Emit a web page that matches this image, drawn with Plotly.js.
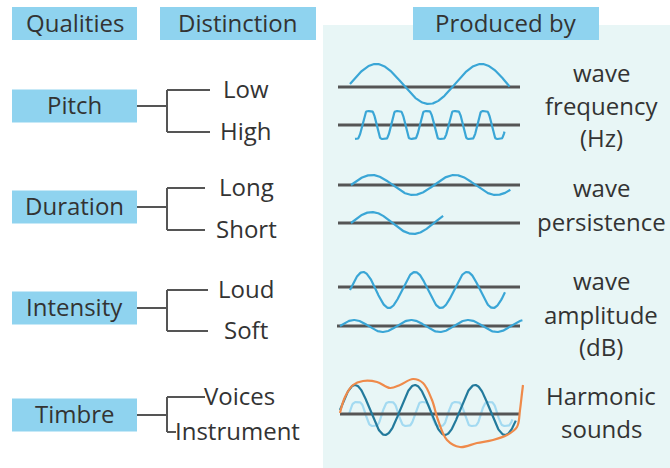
<!DOCTYPE html>
<html>
<head>
<meta charset="utf-8">
<script src="https://cdn.plot.ly/plotly-3.0.1.min.js"></script>
<style>html,body{margin:0;padding:0;background:#fff;}#chart{width:670px;height:468px;}</style>
</head>
<body>
<div id="chart"></div>
<script>
// ---------- data ----------
const headers = ['Qualities', 'Distinction', 'Produced by'];
const qualities = ['Pitch', 'Duration', 'Intensity', 'Timbre'];
const distinctionA = ['Low', 'Long', 'Loud', 'Voices'];
const distinctionB = ['High', 'Short', 'Soft', 'Instrument'];
const producedBy = [['wave', 'frequency', '(Hz)'], ['wave', 'persistence'], ['wave', 'amplitude', '(dB)'], ['Harmonic', 'sounds']];

// wave illustrations: amplitude (px), period (px), number of cycles drawn, start phase (rad), squareness
const waveNames = ['Low', 'High', 'Long', 'Short', 'Loud', 'Soft', 'Fundamental', 'Overtone'];
const waveAmplitude = [20, 14, 10, 11, 18, 6, 25, 12];
const wavePeriod = [105, 28.75, 83, 83, 52, 57, 60, 33];
const waveCycles = [1.52, 5.2, 1.92, 1.11, 2.98, 3.2, 2.93, 4.95];
const wavePhase = [0, -Math.PI / 2, 0, 0, 0, 0, 0, 0];
const waveSquare = [0, 0.13, 0, 0, 0, 0, 0, 0.11];

// resultant harmonic (orange) curve
const harmonicX = [340, 345, 353, 363, 377, 390, 400, 413, 423, 432, 438, 447, 460, 477, 493, 507, 517, 520, 522, 523];
const harmonicY = [413, 397, 385, 381, 382, 388, 385, 379, 383, 400, 420, 440, 447, 443, 440, 435, 427, 410, 393, 385];

// ---------- layout helpers (positions / styles) ----------
const textColor = '#333333';
const boxColor = '#8fd3ef';
const lineColor = '#555555';
const fontFam = '"Open Sans", "DejaVu Sans", sans-serif';
const FS = 24;
const TY = -2; // vertical text nudge

const headerBoxes = [[12, 137], [160, 316], [413, 599]];
const qualityY = [106, 207, 308, 415];
const branchTop = [90, 188, 290, 397];
const branchBot = [132, 230, 331, 432];
const branchEndTop = [210, 205, 208, 205];
const branchEndBot = [210, 205, 208, 176];

const waveStartX = [350, 355, 351, 351, 350, 340, 340, 349];
const waveCenterY = [84, 125, 185, 223, 290, 326, 410, 414];
const waveColors = ['#3aa6d6', '#3aa6d6', '#3aa6d6', '#3aa6d6', '#3aa6d6', '#3aa6d6', '#237a9c', '#a3daf1'];
const baselineY = [87, 125, 185, 223, 287, 326, 414];
const baselineX0 = [338, 338, 338, 338, 338, 337, 340];
const baselineX1 = [520, 520, 520, 520, 520, 520, 520];
const prodLineY = [[74, 107, 139], [189, 223], [282, 316, 348], [397, 430]];
const prodX = 601;

const shapes = [];
const annotations = [];
const traces = [];

function label(x, y, text, anchor) {
  annotations.push({x: x, y: y + TY, text: text, showarrow: false, xanchor: anchor || 'center', yanchor: 'middle', font: {family: fontFam, size: FS, color: textColor}});
}

// background panel
shapes.push({type: 'rect', xref: 'x', yref: 'y', x0: 323, x1: 670, y0: 25, y1: 468, fillcolor: '#e8f6f6', line: {width: 0}, layer: 'below'});

// header boxes
headers.forEach((h, i) => {
  const [x0, x1] = headerBoxes[i];
  shapes.push({type: 'rect', x0: x0, x1: x1, y0: 7, y1: 40, fillcolor: boxColor, line: {width: 0}, layer: 'below'});
  label((x0 + x1) / 2, 24, h);
});

// quality boxes, brackets and distinctions
qualities.forEach((q, i) => {
  const yc = qualityY[i];
  shapes.push({type: 'rect', x0: 12, x1: 137, y0: yc - 16.5, y1: yc + 16.5, fillcolor: boxColor, line: {width: 0}, layer: 'below'});
  label(74.5, yc, q);
  const ln = {color: lineColor, width: 2};
  shapes.push({type: 'line', x0: 137, x1: 167, y0: yc, y1: yc, line: ln});
  shapes.push({type: 'line', x0: 167, x1: 167, y0: branchTop[i], y1: branchBot[i], line: ln});
  shapes.push({type: 'line', x0: 167, x1: branchEndTop[i], y0: branchTop[i], y1: branchTop[i], line: ln});
  shapes.push({type: 'line', x0: 167, x1: branchEndBot[i], y0: branchBot[i], y1: branchBot[i], line: ln});
  if (i < 3) {
    label(246, branchTop[i], distinctionA[i]);
    label(246, branchBot[i], distinctionB[i]);
  } else {
    label(branchEndTop[i] - 3, branchTop[i], distinctionA[i], 'left');
    label(branchEndBot[i] - 3, branchBot[i], distinctionB[i], 'left');
  }
  producedBy[i].forEach((t, k) => label(prodX, prodLineY[i][k], t));
});

// waves
function wave(i) {
  const n = 300, xs = [], ys = [];
  const s = waveSquare[i];
  let mx = 0;
  for (let k = 0; k <= 200; k++) { const t = k / 200 * Math.PI; mx = Math.max(mx, Math.sin(t) + s * Math.sin(3 * t)); }
  for (let k = 0; k <= n; k++) {
    const f = k / n * waveCycles[i];
    const th = wavePhase[i] + 2 * Math.PI * f;
    xs.push(waveStartX[i] + f * wavePeriod[i]);
    ys.push(waveCenterY[i] - waveAmplitude[i] * (Math.sin(th) + s * Math.sin(3 * th)) / mx);
  }
  return {type: 'scatter', mode: 'lines', x: xs, y: ys, name: waveNames[i], line: {color: waveColors[i], width: 2.2}, hoverinfo: 'skip'};
}
function baseline(j) {
  return {type: 'scatter', mode: 'lines', x: [baselineX0[j], baselineX1[j]], y: [baselineY[j], baselineY[j]], line: {color: lineColor, width: 3}, hoverinfo: 'skip'};
}
for (let j = 0; j < 6; j++) traces.push(baseline(j));
for (let i = 0; i < 6; i++) traces.push(wave(i));
traces.push(wave(7));
traces.push(baseline(6));
traces.push(wave(6));
traces.push({type: 'scatter', mode: 'lines', x: harmonicX, y: harmonicY, name: 'Harmonic', line: {color: '#ef8a4a', width: 2.2, shape: 'spline'}, hoverinfo: 'skip'});

const layout = {
  width: 670, height: 468,
  margin: {l: 0, r: 0, t: 0, b: 0},
  paper_bgcolor: '#ffffff', plot_bgcolor: '#ffffff',
  showlegend: false,
  xaxis: {range: [0, 670], visible: false, fixedrange: true},
  yaxis: {range: [468, 0], visible: false, fixedrange: true},
  shapes: shapes,
  annotations: annotations
};
Plotly.newPlot('chart', traces, layout, {displayModeBar: false, staticPlot: true});
</script>
</body>
</html>
